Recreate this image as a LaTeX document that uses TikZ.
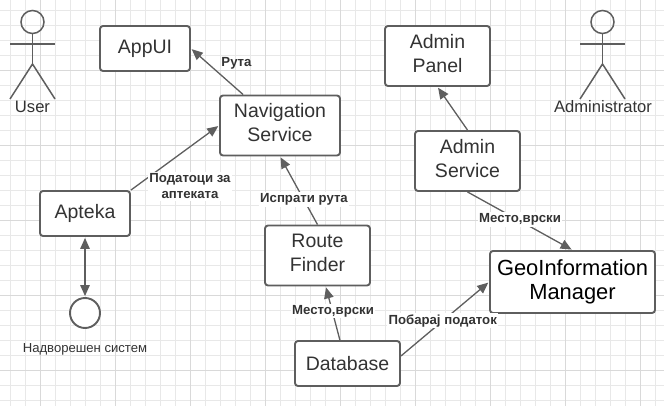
\documentclass[tikz,border=0pt]{standalone}
\usepackage{fontspec}
\setmainfont{Liberation Sans}
\usetikzlibrary{arrows.meta}
\definecolor{ln}{HTML}{5E5E5E}
\definecolor{tx}{HTML}{333333}
\newcommand{\liftup}{\\[-18pt]\mbox{}}
\tikzset{
  x=1pt,y=-1pt,
  box/.style={draw=ln,line width=1.9pt,rounded corners=3pt,fill=white,inner sep=0pt,text=tx,align=center,
    font=\fontsize{19.5}{24}\selectfont,minimum width=#1},
  box/.default=90pt,
  conn/.style={draw=ln,line width=1.3pt,shorten >=1pt,-{Triangle[length=11pt,width=9.5pt]}},
  lbl/.style={fill=white,inner sep=1.5pt,text=tx,align=center,font=\fontsize{13.2}{16}\selectfont\bfseries},
  actorline/.style={draw=ln,line width=1.5pt},
  caption/.style={text=tx,font=\fontsize{16.6}{18}\selectfont,inner sep=0pt},
}
\begin{document}
\begin{tikzpicture}
\useasboundingbox (0,0) rectangle (664,406);
\fill[white] (0,0) rectangle (664,406);
% grid
\foreach \k in {0,...,43} \draw[draw=black!9,line width=0.7pt] ({10.7+15*\k},0) -- ({10.7+15*\k},406);
\foreach \k in {0,...,26} \draw[draw=black!9,line width=0.7pt] (0,{10+15*\k}) -- (664,{10+15*\k});
\foreach \k in {0,...,8} \draw[draw=black!15,line width=0.8pt] ({40.7+75*\k},0) -- ({40.7+75*\k},406);
\foreach \k in {0,...,5} \draw[draw=black!15,line width=0.8pt] (0,{-5+75*\k}) -- (664,{-5+75*\k});
% boxes
\node[box=90pt,minimum height=45pt] (appui) at (145,48.5) {AppUI};
\node[box=120pt,minimum height=60pt] (nav) at (280,125.5) {Navigation\\Service\liftup};
\node[box=90pt,minimum height=45pt] (apteka) at (85,213.5) {Apteka};
\node[box=105pt,minimum height=60pt] (route) at (317.5,255.5) {Route\\Finder\liftup};
\node[box=105pt,minimum height=45pt] (db) at (347.5,363.5) {Database};
\node[box=105pt,minimum height=60pt] (panel) at (437.5,56) {Admin\\Panel\liftup};
\node[box=105pt,minimum height=60pt] (adminsvc) at (467.5,161) {Admin\\Service\liftup};
\node[box=165pt,minimum height=62pt,text=black,font=\fontsize{21.9}{24}\selectfont] (geo) at (572.5,282) {GeoInformation\\Manager\\[-20pt]\mbox{}};
\node[circle,draw=ln,line width=1.9pt,minimum size=30pt,inner sep=0pt,fill=white] (ext) at (85,313) {};
% connectors
\draw[conn] (nav.140) -- (appui.east);
\draw[conn] (apteka.north east) -- (nav.west);
\draw[conn] (route.north) -- (nav.south);
\draw[conn] (db.108) -- (route.-75);
\draw[conn] (db.8) -- (geo.west);
\draw[conn] (adminsvc.north) -- (panel.south);
\draw[conn] (adminsvc.south) -- (geo.north);
\draw[conn,shorten <=1pt,{Triangle[length=11pt,width=9.5pt]}-{Triangle[length=11pt,width=9.5pt]}] (apteka.south) -- (ext.north);
% labels
\node[lbl,fill=none] (l1) at (236.5,63) {Рута};
\node[lbl] (l2) at (190,186.5) {Податоци за\\аптеката};
\node[lbl] (l3) at (304,199.5) {Испрати рута};
\node[lbl] (l4) at (333,311) {Место,врски};
\node[lbl] (l5) at (442.7,320.7) {Побарај податок};
\node[lbl] (l6) at (520,219.3) {Место,врски};
\node[text=tx,font=\fontsize{13.1}{15}\selectfont,inner sep=0pt] (extlabel) at (85,349.5) {Надворешен систем};
% actors
\foreach \nm/\cx in {u/32.5,a/602.5}{
  \node[circle,draw=ln,line width=1.5pt,minimum size=23pt,inner sep=0pt] (head\nm) at (\cx,22) {};
  \coordinate (hip\nm) at (\cx,64);
  \coordinate (arml\nm) at (\cx-22.5,44);
  \coordinate (armr\nm) at (\cx+22.5,44);
  \coordinate (footl\nm) at (\cx-22.5,99);
  \coordinate (footr\nm) at (\cx+22.5,99);
  \draw[actorline] (head\nm.south) -- (hip\nm);
  \draw[actorline] (arml\nm) -- (armr\nm);
  \draw[actorline] (footl\nm) -- (hip\nm) -- (footr\nm);
}
\node[caption] (userlabel) at (32.5,107) {User};
\node[caption] (adminlabel) at (603,107) {Administrator};
\end{tikzpicture}
\end{document}
